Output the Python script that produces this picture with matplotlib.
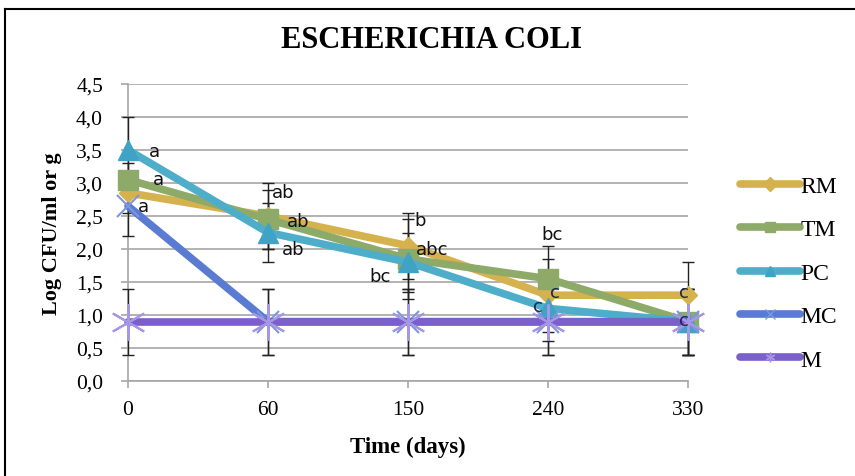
import numpy as np
import matplotlib
matplotlib.use("Agg")
import matplotlib.pyplot as plt
from matplotlib.lines import Line2D

# storage time (days) and treatment means, Log CFU/ml or g
days = ["0", "60", "150", "240", "330"]
rm = [2.85, 2.5, 2.05, 1.3, 1.3]
tm = [3.05, 2.45, 1.85, 1.55, 0.9]
pc = [3.5, 2.25, 1.8, 1.1, 0.9]
mc = [2.65, 0.9, 0.9, 0.9, 0.9]
m = [0.9, 0.9, 0.9, 0.9, 0.9]

rm_err = [0.3, 0.5, 0.5, 0.55, 0.5]
tm_err = [0.25, 0.45, 0.6, 0.5, 0.5]
pc_err = [0.5, 0.45, 0.45, 0.5, 0.5]
mc_err = [0.45, 0.5, 0.5, 0.5, 0.5]
m_err = [0.5, 0.5, 0.5, 0.5, 0.5]

# significance letters: (day index, y value, pixel x offset, text, colour)
letters = [
    (0, 3.48, 26, "a", "#111111"),
    (0, 3.06, 30, "a", "#111111"),
    (0, 2.65, 15, "a", "#111111"),
    (1, 2.86, 15, "ab", "#111111"),
    (1, 2.42, 30, "ab", "#111111"),
    (1, 2.00, 25, "ab", "#111111"),
    (2, 2.44, 12, "b", "#111111"),
    (2, 2.00, 24, "abc", "#111111"),
    (2, 1.59, -28, "bc", "#111111"),
    (3, 2.23, 4, "bc", "#111111"),
    (3, 1.35, 7, "c", "#1b2550"),
    (3, 1.14, -10, "c", "#1b2550"),
    (4, 1.35, -4, "c", "#1b2550"),
    (4, 0.92, -4, "c", "#1b2550"),
]

serif = "Liberation Serif"
x = np.arange(len(days))

fig = plt.figure(figsize=(8.55, 4.77), dpi=100)
ax = fig.add_axes([128 / 855, 95 / 477, 560 / 855, 297 / 477])

series = [
    ("RM", rm, rm_err, "#d6b24e", "D", 9, "#d6b24e"),
    ("TM", tm, tm_err, "#8daa69", "s", 15, "#8daa69"),
    ("PC", pc, pc_err, "#4eadc9", "^", 15, "#3ea3c4"),
    ("MC", mc, mc_err, "#5a7bd2", "x", 16, "#7e96dc"),
    ("M", m, m_err, "#7b5fcb", (6, 2, 0), 26, "#a597e6"),
]

handles = []
for name, vals, err, col, mk, ms, mcol in series:
    ax.errorbar(x, vals, yerr=err, fmt="none", ecolor="#222222",
                elinewidth=1.0, capsize=4, capthick=1.0, zorder=3, clip_on=False)
for name, vals, err, col, mk, ms, mcol in series:
    ax.plot(x, vals, color=col, lw=5.5, solid_capstyle="round",
            marker=mk, markersize=ms, markerfacecolor=mcol,
            markeredgecolor=mcol, markeredgewidth=1.5 if mk in ("x", (6, 2, 0)) else 1,
            zorder=4, clip_on=False)
    handles.append(Line2D([], [], color=col, lw=5.5, solid_capstyle="round",
                          marker=mk, markersize=7, markerfacecolor=mcol,
                          markeredgecolor=mcol, label=name))

for i, yv, dx, txt, c in letters:
    ax.annotate(txt, (x[i], yv), xytext=(dx, 0), textcoords="offset pixels",
                ha="center", va="center", fontsize=13, color=c,
                family="DejaVu Sans", zorder=6, annotation_clip=False)

ax.set_xlim(0, 4)
ax.set_ylim(0, 4.5)
ax.set_xticks(x)
ax.set_xticklabels(days, family=serif, fontsize=15.5)
yt = np.arange(0, 4.51, 0.5)
ax.set_yticks(yt)
ax.set_yticklabels([f"{v:.1f}".replace(".", ",") for v in yt], family=serif, fontsize=15.5)
ax.yaxis.grid(True, color="#a6a6a6", lw=1.2)
ax.set_axisbelow(True)
for s in ("top", "right"):
    ax.spines[s].set_visible(False)
for s in ("left", "bottom"):
    ax.spines[s].set_color("#a6a6a6")
    ax.spines[s].set_linewidth(1.2)
ax.tick_params(axis="both", color="#a6a6a6", length=5, width=1.2)
ax.tick_params(axis="y", pad=13)
ax.tick_params(axis="x", pad=9)

ax.set_xlabel("Time (days)", family=serif, fontsize=16.5, fontweight="bold", labelpad=12)
ax.set_ylabel("Log CFU/ml or g", family=serif, fontsize=16, fontweight="bold", labelpad=10)
fig.text(431 / 855, 1 - 40 / 477, "ESCHERICHIA COLI", family=serif, fontsize=22,
         fontweight="bold", ha="center", va="center")

fig.legend(handles=handles, loc="center left", bbox_to_anchor=(740 / 855, 1 - 274 / 477),
           frameon=False, prop={"family": serif, "size": 17}, handlelength=2.55,
           handletextpad=0.0, labelspacing=0.93, borderpad=0, borderaxespad=0)

# outer frame (left and top edges)
fig.add_artist(Line2D([5 / 855, 5 / 855], [0, 1 - 10 / 477], color="black", lw=1.5))
fig.add_artist(Line2D([5 / 855, 1], [1 - 10 / 477, 1 - 10 / 477], color="black", lw=1.5))

fig.savefig("out.png", dpi=100)
